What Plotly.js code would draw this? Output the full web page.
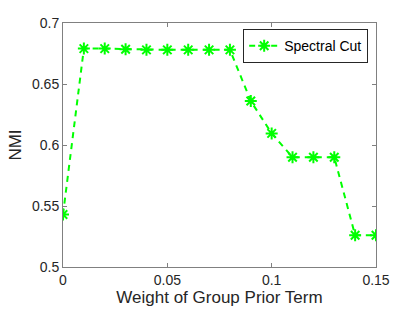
<!DOCTYPE html>
<html><head><meta charset="utf-8">
<script src="https://cdn.plot.ly/plotly-3.0.1.min.js"></script>
<style>html,body{margin:0;padding:0;background:#fff;}#c{width:415px;height:312px;}</style>
</head><body><div id="c"></div>
<script>
const weights = [0, 0.01, 0.02, 0.03, 0.04, 0.05, 0.06, 0.07, 0.08, 0.09, 0.10, 0.11, 0.12, 0.13, 0.14, 0.15];
const nmi = [0.543, 0.679, 0.679, 0.6785, 0.678, 0.678, 0.678, 0.678, 0.678, 0.636, 0.6095, 0.590, 0.590, 0.590, 0.526, 0.526];
const seriesName = 'Spectral Cut';
const xTicks = [0, 0.05, 0.1, 0.15];
const xTickText = ['0', '0.05', '0.1', '0.15'];
const yTicks = [0.5, 0.55, 0.6, 0.65, 0.7];
const yTickText = ['0.5', '0.55', '0.6', '0.65', '0.7'];

const FONT = 'Liberation Sans, Arial, sans-serif';
const axisCommon = {
  showgrid: false, zeroline: false, showline: true, linecolor: '#808080', linewidth: 1,
  mirror: 'ticks', ticks: 'inside', ticklen: 4, tickcolor: '#808080', tickwidth: 1,
  tickfont: {family: FONT, size: 14, color: '#262626'}
};
const data = [{
  x: weights, y: nmi, name: seriesName, type: 'scatter', mode: 'lines+markers',
  line: {color: '#00ff00', width: 2, dash: '6px,5px'},
  marker: {symbol: 'asterisk-open', size: 10, color: '#00ff00', line: {color: '#00ff00', width: 2}}
}];
const layout = {
  width: 415, height: 312, margin: {l: 63, r: 39, t: 23, b: 45},
  paper_bgcolor: '#fff', plot_bgcolor: '#fff', showlegend: true,
  xaxis: Object.assign({}, axisCommon, {range: [0, 0.15], tickvals: xTicks, ticktext: xTickText,
    title: {text: 'Weight of Group Prior Term', font: {family: FONT, size: 17, color: '#262626'}, standoff: 2}}),
  yaxis: Object.assign({}, axisCommon, {range: [0.5, 0.7], tickvals: yTicks, ticktext: yTickText,
    title: {text: 'NMI', font: {family: FONT, size: 17, color: '#262626'}, standoff: 6}}),
  legend: {x: 0.975, xanchor: 'right', y: 0.975, yanchor: 'top', bgcolor: '#fff', bordercolor: '#262626', borderwidth: 1,
    font: {family: FONT, size: 14, color: '#000'}, itemwidth: 30, tracegroupgap: 0}
};
Plotly.newPlot('c', data, layout, {staticPlot: true, displayModeBar: false});
</script></body></html>
